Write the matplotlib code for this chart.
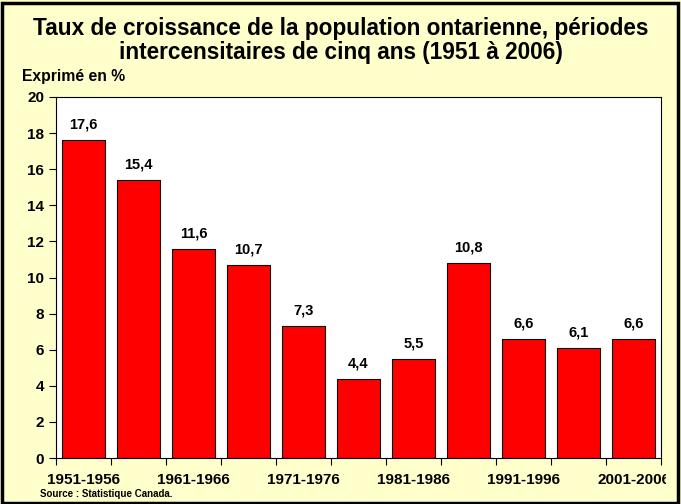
import matplotlib.pyplot as plt
import matplotlib.patches as patches
from matplotlib.transforms import Bbox

plt.rcParams['font.family'] = ['Liberation Sans', 'DejaVu Sans']
plt.rcParams['font.weight'] = 'bold'

periodes = ['1951-1956', '1956-1961', '1961-1966', '1966-1971', '1971-1976',
            '1976-1981', '1981-1986', '1986-1991', '1991-1996', '1996-2001',
            '2001-2006']
taux = [17.6, 15.4, 11.6, 10.7, 7.3, 4.4, 5.5, 10.8, 6.6, 6.1, 6.6]
etiquettes = ['17,6', '15,4', '11,6', '10,7', '7,3', '4,4', '5,5', '10,8',
              '6,6', '6,1', '6,6']

fig = plt.figure(figsize=(6.81, 5.04), dpi=100, facecolor='#FFFFCC')
W, H = 681, 504
ax = fig.add_axes([56/W, 1 - 458/H, (661-56)/W, (458-97)/H])
ax.set_facecolor('white')

x = list(range(len(taux)))
ax.bar(x, taux, width=0.78, color='#FF0000', edgecolor='black', linewidth=0.8)
for xi, v, s in zip(x, taux, etiquettes):
    ax.annotate(s, (xi, v), xytext=(0, 6), textcoords='offset points',
                ha='center', va='bottom', fontsize=10.5, fontweight='bold')

ax.set_xlim(-0.5, len(taux) - 0.5)
ax.set_ylim(0, 20)
ax.set_yticks(range(0, 21, 2))
ax.tick_params(axis='y', labelsize=11, length=5, width=0.8, direction='out')
ax.set_xticks([i - 0.5 for i in range(len(taux) + 1)])
ax.set_xticklabels([])
ax.tick_params(axis='x', length=5, width=0.8, direction='out')
for lab in ax.get_yticklabels():
    lab.set_fontweight('bold')
for sp in ax.spines.values():
    sp.set_linewidth(0.8)

clip = Bbox.from_extents(0, 0, 666, 504)
for i in range(0, len(periodes), 2):
    t = ax.annotate(periodes[i], (i, 0), xytext=(0, -10.5),
                    textcoords='offset points', ha='center', va='top',
                    fontsize=11, fontweight='bold', annotation_clip=False)
    t.set_clip_on(True)
    t.set_clip_box(clip)

fig.text(0.5, 1 - 28/H, 'Taux de croissance de la population ontarienne, périodes',
         ha='center', va='center', fontsize=16.3, fontweight='bold')
fig.text(0.5, 1 - 53/H, 'intercensitaires de cinq ans (1951 à 2006)',
         ha='center', va='center', fontsize=16.3, fontweight='bold')
fig.text(22/W, 1 - 77/H, 'Exprimé en %', ha='left', va='center',
         fontsize=11.3, fontweight='bold')
fig.text(40/W, 1 - 494/H, 'Source : Statistique Canada.', ha='left',
         va='center', fontsize=7, fontweight='bold')

fig.patches.append(patches.Rectangle((1.5/W, 1.5/H), 1 - 4.5/W, 1 - 4.5/H,
                                     transform=fig.transFigure, fill=False,
                                     edgecolor='black', linewidth=2.5))

fig.savefig('out.png', dpi=100, facecolor=fig.get_facecolor())
